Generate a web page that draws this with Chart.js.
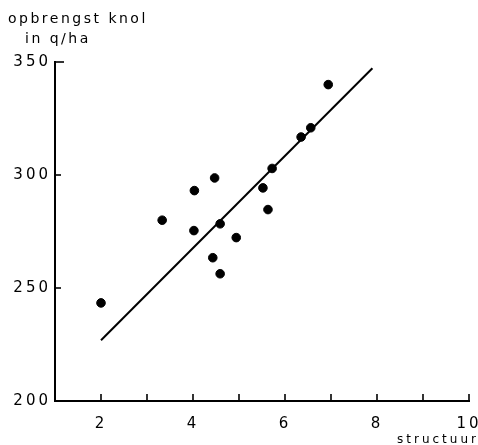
<!DOCTYPE html>
<html>
<head>
<meta charset="utf-8">
<script src="https://cdn.jsdelivr.net/npm/chart.js@4"></script>
<style>
html,body{margin:0;padding:0;background:#fff;}
#wrap{width:478px;height:445px;position:relative;}
</style>
</head>
<body>
<div id="wrap"><canvas id="c" width="478" height="445"></canvas></div>
<script>
// Data
const structuur = [2.0, 3.33, 4.03, 4.02, 4.47, 4.43, 4.59, 4.59, 4.94, 5.52, 5.63, 5.72, 6.35, 6.56, 6.94];
const opbrengst = [243.4, 280.0, 293.1, 275.4, 298.7, 263.4, 256.3, 278.4, 272.3, 294.3, 284.7, 302.9, 316.8, 320.9, 340.0];
const lineX = [2.0, 7.9];
const lineY = [226.9, 347.2];
const xTicks = [1, 2, 3, 4, 5, 6, 7, 8, 9, 10];
const xLabels = [2, 4, 6, 8, 10];
const yTicks = [200, 250, 300, 350];
const yTitle = ['opbrengst knol', 'in q/ha'];
const xTitle = 'structuur';

const FONT = '"DejaVu Sans", sans-serif';

const spacing = {
  id: 'spacing',
  beforeLayout(chart) { chart.ctx.letterSpacing = '3px'; },
  beforeDraw(chart) { chart.ctx.letterSpacing = '3px'; }
};

const axisDecor = {
  id: 'axisDecor',
  afterDraw(chart) {
    const ctx = chart.ctx;
    const xs = chart.scales.x, ys = chart.scales.y;
    ctx.save();
    ctx.strokeStyle = '#000';
    ctx.lineWidth = 1.6;
    const yb = ys.getPixelForValue(200);
    const xl = xs.getPixelForValue(1);
    // x ticks pointing up
    xTicks.forEach(v => {
      if (v === 1) return;
      const px = xs.getPixelForValue(v);
      ctx.beginPath();
      ctx.moveTo(px, yb);
      ctx.lineTo(px, yb - 7);
      ctx.stroke();
    });
    // y ticks pointing right
    yTicks.forEach(v => {
      if (v === 200) return;
      const py = ys.getPixelForValue(v);
      ctx.beginPath();
      ctx.moveTo(xl, py);
      ctx.lineTo(xl + (v === 350 ? 9 : 6), py);
      ctx.stroke();
    });
    // titles
    ctx.fillStyle = '#000';
    ctx.font = '14px ' + FONT;
    ctx.letterSpacing = '2.5px';
    ctx.textBaseline = 'alphabetic';
    ctx.textAlign = 'left';
    ctx.fillText(yTitle[0], 8, 23);
    ctx.fillText(yTitle[1], 25, 43);
    ctx.font = '12px ' + FONT;
    ctx.letterSpacing = '3px';
    ctx.fillText(xTitle, 397, 443);
    ctx.restore();
  }
};

new Chart(document.getElementById('c'), {
  type: 'scatter',
  data: {
    datasets: [
      {
        data: structuur.map((x, i) => ({x: x, y: opbrengst[i]})),
        backgroundColor: '#000',
        borderColor: '#000',
        pointRadius: 4.3,
        pointHoverRadius: 4.3
      },
      {
        type: 'line',
        data: lineX.map((x, i) => ({x: x, y: lineY[i]})),
        borderColor: '#000',
        borderWidth: 2,
        pointRadius: 0,
        fill: false
      }
    ]
  },
  options: {
    responsive: false,
    animation: false,
    events: [],
    layout: {padding: {left: 0, right: 9, top: 62, bottom: 0}},
    plugins: {legend: {display: false}, tooltip: {enabled: false}},
    scales: {
      x: {
        type: 'linear',
        min: 1, max: 10,
        afterBuildTicks: s => { s.ticks = xTicks.map(v => ({value: v})); },
        afterFit: s => { s.height = 44; s.paddingLeft = 0; s.paddingRight = 0; },
        grid: {display: false, drawTicks: false},
        border: {display: true, color: '#000', width: 2},
        ticks: {
          autoSkip: false,
          maxRotation: 0,
          padding: 14,
          color: '#000',
          font: {family: FONT, size: 15},
          callback: v => xLabels.includes(v) ? String(v) : ''
        }
      },
      y: {
        type: 'linear',
        min: 200, max: 350,
        afterBuildTicks: s => { s.ticks = yTicks.map(v => ({value: v})); },
        afterFit: s => { s.width = 55; s.paddingTop = 0; s.paddingBottom = 0; },
        grid: {display: false, drawTicks: false},
        border: {display: true, color: '#000', width: 2},
        ticks: {
          padding: 4,
          color: '#000',
          font: {family: FONT, size: 15}
        }
      }
    }
  },
  plugins: [spacing, axisDecor]
});
</script>
</body>
</html>
